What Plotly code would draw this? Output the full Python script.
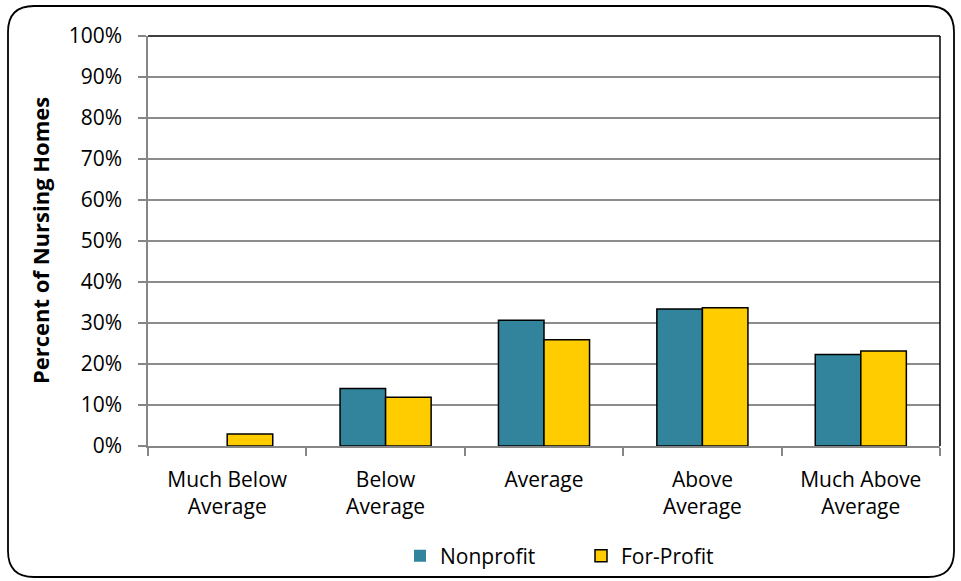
import plotly.graph_objects as go

categories = ["Much Below<br>Average", "Below<br>Average", "Average", "Above<br>Average", "Much Above<br>Average"]
nonprofit = [0.0, 14.0, 30.7, 33.4, 22.3]
for_profit = [2.9, 11.9, 25.9, 33.7, 23.2]
y_ticks = list(range(0, 101, 10))
y_tick_text = [f"{v}%" for v in y_ticks]

W, H = 961, 581
L, R, T, B = 148, 21, 36, 135
PW, PH = W - L - R, H - T - B

FONT = "Open Sans, Lato, sans-serif"
TICK_SIZE = 21


def outline_widths(values):
    # no outline on empty bars, so a zero share leaves no mark on the baseline
    return [0 if v == 0 else 1.5 for v in values]


fig = go.Figure()
fig.add_trace(go.Bar(
    name="Nonprofit", x=categories, y=nonprofit,
    marker=dict(color="#31849B", line=dict(color="black", width=outline_widths(nonprofit))),
))
fig.add_trace(go.Bar(
    name="For-Profit", x=categories, y=for_profit,
    marker=dict(color="#FFCC00", line=dict(color="black", width=outline_widths(for_profit))),
))


def px_to_paper(x, y):
    return (x - L) / PW, (H - B - y) / PH


def rounded_box(x0, y0, x1, y1, r):
    def p(x, y):
        a, b = px_to_paper(x, y)
        return f"{a:.5f},{b:.5f}"
    return (
        f"M {p(x0 + r, y0)} L {p(x1 - r, y0)} "
        f"Q {p(x1, y0)} {p(x1, y0 + r)} L {p(x1, y1 - r)} "
        f"Q {p(x1, y1)} {p(x1 - r, y1)} L {p(x0 + r, y1)} "
        f"Q {p(x0, y1)} {p(x0, y1 - r)} L {p(x0, y0 + r)} "
        f"Q {p(x0, y0)} {p(x0 + r, y0)} Z"
    )


shapes = [
    dict(type="path", xref="paper", yref="paper", path=rounded_box(8, 6, 954, 577, 26),
         line=dict(color="black", width=1.8), layer="below"),
    dict(type="line", xref="paper", yref="paper", x0=0, x1=1, y0=1, y1=1,
         line=dict(color="black", width=1.5)),
    dict(type="line", xref="paper", yref="paper", x0=1, x1=1, y0=0, y1=1,
         line=dict(color="black", width=1.5)),
]

title_x, _ = px_to_paper(40, 0)
annotations = [
    dict(text="<b>Percent of Nursing Homes</b>", xref="paper", yref="paper",
         x=title_x, y=0.5, xanchor="center", yanchor="middle", textangle=-90,
         showarrow=False, font=dict(family=FONT, size=22, color="black")),
]

legend_x = px_to_paper(400, 0)[0]

fig.update_layout(
    width=W, height=H,
    margin=dict(l=L, r=R, t=T, b=B),
    paper_bgcolor="white", plot_bgcolor="white",
    barmode="group", bargap=0.425, bargroupgap=0,
    font=dict(family=FONT, size=TICK_SIZE, color="black"),
    showlegend=True,
    legend=dict(orientation="h", x=legend_x, xanchor="left",
                yref="container", y=1 - 556 / H, yanchor="middle",
                bgcolor="rgba(0,0,0,0)",
                font=dict(size=TICK_SIZE), itemwidth=30, traceorder="normal",
                entrywidth=136, entrywidthmode="pixels"),
    shapes=shapes,
    annotations=annotations,
    xaxis=dict(
        showline=True, linecolor="#868686", linewidth=1.5,
        ticks="outside", ticklen=8, tickcolor="#868686", tickwidth=1.5,
        tickson="boundaries", showgrid=False, fixedrange=True,
        tickfont=dict(size=TICK_SIZE), ticklabelstandoff=14,
    ),
    yaxis=dict(
        range=[0, 100], tickvals=y_ticks, ticktext=y_tick_text,
        showline=True, linecolor="#868686", linewidth=1.5,
        ticks="outside", ticklen=8, tickcolor="#868686", tickwidth=1.5,
        showgrid=True, gridcolor="#8c8c8c", gridwidth=1.5,
        zeroline=False, fixedrange=True,
        tickfont=dict(size=TICK_SIZE), ticklabelstandoff=12,
    ),
)

fig.write_html("out.html")
